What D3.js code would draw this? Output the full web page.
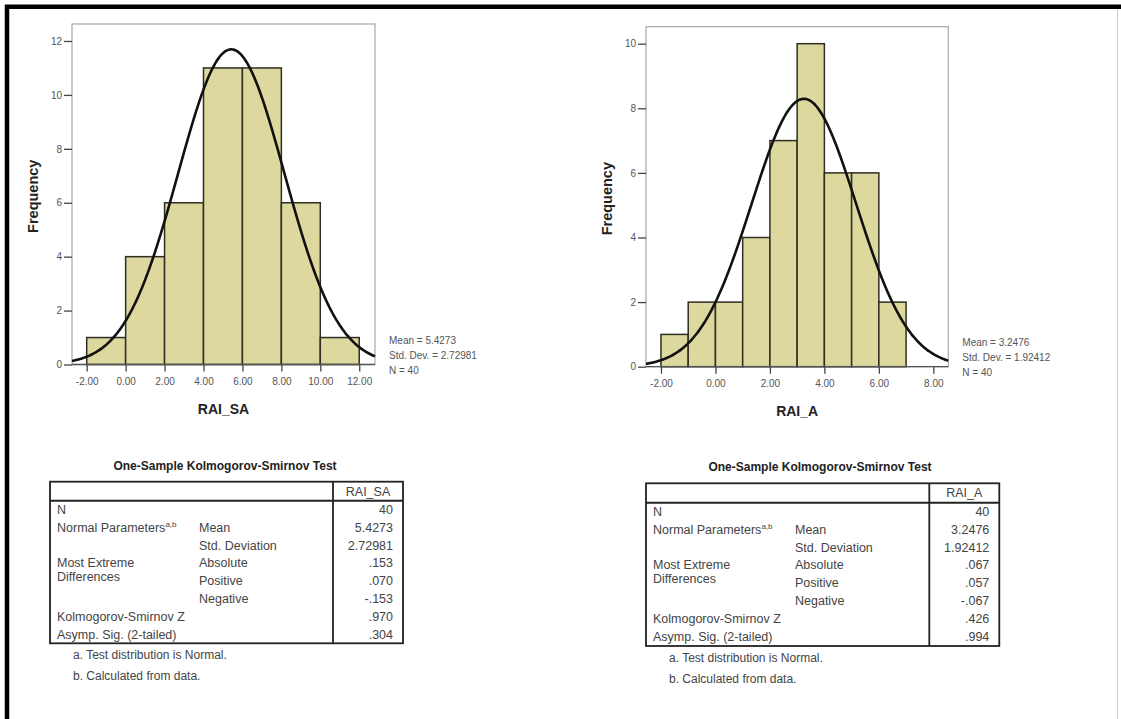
<!DOCTYPE html>
<html><head><meta charset="utf-8">
<script src="https://cdn.jsdelivr.net/npm/d3@7"></script>
<style>
html,body{margin:0;padding:0;background:#fff;}
svg{display:block;font-family:"Liberation Sans",Arial,sans-serif;}
</style></head>
<body>
<svg id="c" width="1121" height="719"></svg>
<script>
// ---------- data ----------
const binStartsSA = [-2, 0, 2, 4, 6, 8, 10];
const countsSA = [1, 4, 6, 11, 11, 6, 1];
const binWidthSA = 2;
const xTicksSA = [-2, 0, 2, 4, 6, 8, 10, 12];
const yTicksSA = [0, 2, 4, 6, 8, 10, 12];
const statsSA = {mean: 5.4273, sd: 2.72981, n: 40};

const binStartsA = [-2, -1, 0, 1, 2, 3, 4, 5, 6];
const countsA = [1, 2, 2, 4, 7, 10, 6, 6, 2];
const binWidthA = 1;
const xTicksA = [-2, 0, 2, 4, 6, 8];
const yTicksA = [0, 2, 4, 6, 8, 10];
const statsA = {mean: 3.2476, sd: 1.92412, n: 40};

const rowLabels1 = ["N", "Normal Parameters", "", "Most Extreme", "", "", "Kolmogorov-Smirnov Z", "Asymp. Sig. (2-tailed)"];
const rowLabels2 = ["", "Mean", "Std. Deviation", "Absolute", "Positive", "Negative", "", ""];
const valuesSA = ["40", "5.4273", "2.72981", ".153", ".070", "-.153", ".970", ".304"];
const valuesA = ["40", "3.2476", "1.92412", ".067", ".057", "-.067", ".426", ".994"];
const footnotes = ["a. Test distribution is Normal.", "b. Calculated from data."];

// ---------- drawing ----------
const svg = d3.select("#c");

// outer frame
svg.append("line").attr("x1", 5).attr("x2", 1121).attr("y1", 6.8).attr("y2", 6.8).attr("stroke", "#000").attr("stroke-width", 4.5);
svg.append("line").attr("x1", 7).attr("x2", 7).attr("y1", 5).attr("y2", 719).attr("stroke", "#000").attr("stroke-width", 4.5);
svg.append("line").attr("x1", 1117.5).attr("x2", 1117.5).attr("y1", 9).attr("y2", 719).attr("stroke", "#ccc").attr("stroke-width", 1);

const fmt2 = v => d3.format(".2f")(v).replace("\u2212", "-");

function histogram(cfg) {
  const g = svg.append("g");
  const x = d3.scaleLinear().domain(cfg.xDomain).range([cfg.left, cfg.right]);
  const y = d3.scaleLinear().domain(cfg.yDomain).range([cfg.bottom, cfg.top]);

  // frame
  g.append("rect").attr("x", cfg.left).attr("y", cfg.top)
    .attr("width", cfg.right - cfg.left).attr("height", cfg.bottom - cfg.top)
    .attr("fill", "#fff").attr("stroke", "#a8a8a8").attr("stroke-width", 1.2);

  // bars
  g.selectAll("rect.bar").data(cfg.starts.map((s, i) => ({s, c: cfg.counts[i]})))
    .join("rect").attr("class", "bar")
    .attr("x", d => x(d.s)).attr("width", d => x(d.s + cfg.bw) - x(d.s))
    .attr("y", d => y(d.c)).attr("height", d => y(0) - y(d.c))
    .attr("fill", "#dcd89e").attr("stroke", "#2e2e22").attr("stroke-width", 1.5);

  // axes
  const yAxis = d3.axisLeft(y).tickValues(cfg.yTicks).tickSize(8).tickPadding(2).tickFormat(d3.format("d"));
  const ya = g.append("g").attr("transform", `translate(${cfg.left},0)`).call(yAxis);
  ya.select(".domain").remove();
  ya.selectAll(".tick line").attr("stroke", "#444").attr("stroke-width", 1.3);
  ya.selectAll(".tick text").attr("fill", "#555").style("font-size", "10px").style("font-family", "'Liberation Sans',Arial");

  const xAxis = d3.axisBottom(x).tickValues(cfg.xTicks).tickSize(7).tickPadding(6).tickFormat(fmt2);
  const xa = g.append("g").attr("transform", `translate(0,${cfg.bottom})`).call(xAxis);
  xa.select(".domain").remove();
  xa.selectAll(".tick line").attr("stroke", "#444").attr("stroke-width", 1.3);
  xa.selectAll(".tick text").attr("fill", "#555").style("font-size", "10px").style("font-family", "'Liberation Sans',Arial");

  g.append("line").attr("x1", cfg.left).attr("x2", cfg.right).attr("y1", cfg.bottom).attr("y2", cfg.bottom)
    .attr("stroke", "#555").attr("stroke-width", 1.3);

  // fitted normal curve from the mean / std. dev. above
  const {mean, sd, n} = cfg.stats;
  const pts = d3.range(0, 301).map(i => {
    const xv = cfg.xDomain[0] + (cfg.xDomain[1] - cfg.xDomain[0]) * i / 300;
    const dens = Math.exp(-0.5 * ((xv - mean) / sd) ** 2) / (sd * Math.sqrt(2 * Math.PI));
    return [xv, dens * n * cfg.bw];
  });
  g.append("path").datum(pts)
    .attr("d", d3.line().x(d => x(d[0])).y(d => y(d[1])).curve(d3.curveBasis))
    .attr("fill", "none").attr("stroke", "#111").attr("stroke-width", 2.6);

  // titles
  g.append("text").attr("x", (cfg.left + cfg.right) / 2 + cfg.xTitleDx).attr("y", cfg.bottom + 49)
    .attr("text-anchor", "middle").attr("font-weight", "bold").attr("font-size", 14).attr("fill", "#222")
    .text(cfg.xTitle);
  g.append("text").attr("transform", `translate(${cfg.yTitleX},${(cfg.top + cfg.bottom) / 2 + 2}) rotate(-90)`)
    .attr("text-anchor", "middle").attr("font-weight", "bold").attr("font-size", 14.5).attr("fill", "#222")
    .text("Frequency");

  // stats
  const lines = [`Mean = ${mean}`, `Std. Dev. = ${sd}`, `N = ${n}`];
  g.selectAll("text.st").data(lines).join("text").attr("class", "st")
    .attr("x", cfg.right + 14).attr("y", (d, i) => cfg.bottom - 21 + i * 15)
    .attr("font-size", 10).attr("fill", "#555").text(d => d);
}

histogram({
  left: 72, right: 375, top: 24, bottom: 364.5,
  xDomain: [-2.755, 12.81], yDomain: [0, 12.63],
  starts: binStartsSA, counts: countsSA, bw: binWidthSA,
  xTicks: xTicksSA, yTicks: yTicksSA, stats: statsSA,
  xTitle: "RAI_SA", xTitleDx: 0, yTitleX: 38
});
histogram({
  left: 646, right: 948.3, top: 26.7, bottom: 366.7,
  xDomain: [-2.55, 8.55], yDomain: [0, 10.526],
  starts: binStartsA, counts: countsA, bw: binWidthA,
  xTicks: xTicksA, yTicks: yTicksA, stats: statsA,
  xTitle: "RAI_A", xTitleDx: 0, yTitleX: 612
});

function ksTable(cfg) {
  const g = svg.append("g");
  g.append("text").attr("x", cfg.titleX).attr("y", cfg.top - 12)
    .attr("text-anchor", "middle").attr("font-weight", "bold").attr("font-size", 12).attr("fill", "#222")
    .text("One-Sample Kolmogorov-Smirnov Test");
  g.append("rect").attr("x", cfg.left).attr("y", cfg.top).attr("width", cfg.right - cfg.left)
    .attr("height", cfg.bottom - cfg.top).attr("fill", "none").attr("stroke", "#222").attr("stroke-width", 1.8);
  g.append("line").attr("x1", cfg.left).attr("x2", cfg.right).attr("y1", cfg.header).attr("y2", cfg.header)
    .attr("stroke", "#222").attr("stroke-width", 2);
  g.append("line").attr("x1", cfg.div).attr("x2", cfg.div).attr("y1", cfg.top).attr("y2", cfg.bottom)
    .attr("stroke", "#222").attr("stroke-width", 1.8);
  g.append("text").attr("x", (cfg.div + cfg.right) / 2).attr("y", cfg.top + 14)
    .attr("text-anchor", "middle").attr("font-size", 12.5).attr("fill", "#444").text(cfg.col);

  const rowY = i => cfg.header + 13 + i * 17.9;
  rowLabels1.forEach((t, i) => {
    if (!t) return;
    const tx = g.append("text").attr("x", cfg.left + 7).attr("y", rowY(i)).attr("font-size", 12.5).attr("fill", "#444");
    tx.text(t);
    if (t === "Normal Parameters") {
      tx.append("tspan").attr("dy", -5).attr("font-size", 8).text("a,b");
    }
  });
  g.append("text").attr("x", cfg.left + 7).attr("y", rowY(3) + 14).attr("font-size", 12.5).attr("fill", "#444").text("Differences");
  rowLabels2.forEach((t, i) => {
    if (!t) return;
    g.append("text").attr("x", cfg.col2).attr("y", rowY(i)).attr("font-size", 12.5).attr("fill", "#444").text(t);
  });
  cfg.values.forEach((v, i) => {
    g.append("text").attr("x", cfg.right - 10).attr("y", rowY(i)).attr("text-anchor", "end")
      .attr("font-size", 12.5).attr("fill", "#444").text(v);
  });
  footnotes.forEach((f, i) => {
    g.append("text").attr("x", cfg.left + 23).attr("y", cfg.bottom + 16 + i * 20.7)
      .attr("font-size", 12).attr("fill", "#444").text(f);
  });
}

ksTable({left: 50, right: 403, top: 481.7, header: 500.7, bottom: 643.3, div: 333, col2: 199,
  titleX: 225, col: "RAI_SA", values: valuesSA});
ksTable({left: 646, right: 999.3, top: 483.3, header: 502.7, bottom: 646, div: 929.3, col2: 795,
  titleX: 820, col: "RAI_A", values: valuesA});
</script>
</body></html>
